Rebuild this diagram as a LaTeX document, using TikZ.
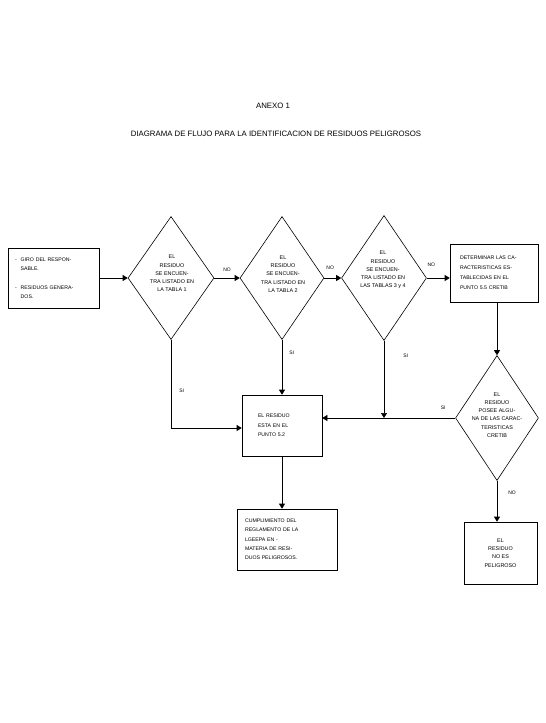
\documentclass[tikz,border=0pt]{standalone}
\usepackage{fontspec}
\setmainfont{Liberation Sans}
\usetikzlibrary{shapes.geometric,arrows.meta}
\begin{document}
\begin{tikzpicture}[x=1pt,y=-1pt,
  line width=0.6pt,
  box/.style={draw, rectangle, inner sep=0pt},
  dia/.style={draw, diamond, inner sep=0pt},
  txt/.style={font=\fontsize{5.4}{8.3}\selectfont, inner sep=0pt, align=center},
  boxtxt/.style={font=\fontsize{5.2}{9.3}\selectfont, align=left},
  lbl/.style={font=\fontsize{5}{6}\selectfont, inner sep=0pt},
  ttl/.style={font=\fontsize{7.8}{9}\selectfont, inner sep=0pt},
  arr/.style={-{Triangle[length=5pt,width=6pt]}}]
\useasboundingbox (0,0) rectangle (546,723);

\node[ttl] (anexo) at (273,106) {ANEXO 1};
\node[ttl] (titulo) at (276,134) {DIAGRAMA DE FLUJO PARA LA IDENTIFICACION DE RESIDUOS PELIGROSOS};

% box 1
\node[box, boxtxt, minimum width=91pt, minimum height=60pt, text width=77pt] (b1) at (53.5,278)
 {\begin{tabular}{@{}l@{\hspace{4pt}}l@{}}-&GIRO DEL RESPON-\\ &SABLE.\\[9pt] -&RESIDUOS GENERA-\\ &DOS.\end{tabular}};

% diamonds
\node[dia, minimum width=86pt, minimum height=123pt] (d1) at (171,278) {};
\node[txt] (t1) at (172,273.5) {EL\\RESIDUO\\SE ENCUEN-\\TRA LISTADO EN\\LA TABLA 1};
\node[dia, minimum width=84pt, minimum height=123pt] (d2) at (282,278) {};
\node[txt] (t2) at (283,274) {EL\\RESIDUO\\SE ENCUEN-\\TRA LISTADO EN\\LA TABLA 2};
\node[dia, minimum width=85pt, minimum height=125pt] (d3) at (384,278) {};
\node[txt] (t3) at (383,270) {EL\\RESIDUO\\SE ENCUEN-\\TRA LISTADO EN\\LAS TABLAS 3 y 4};
\node[dia, minimum width=83pt, minimum height=125pt] (d4) at (497,418) {};
\node[txt] (t4) at (497,415) {EL\\RESIDUO\\POSEE ALGU-\\NA DE LAS CARAC-\\TERISTICAS\\CRETIB};

% boxes
\node[box, boxtxt, font=\fontsize{5.2}{10}\selectfont, minimum width=88pt, minimum height=58pt, text width=68pt] (rb) at (494,273)
 {DETERMINAR LAS CA-\\RACTERISTICAS ES-\\TABLECIDAS EN EL\\PUNTO 5.5 CRETIB};
\node[box, boxtxt, minimum width=80pt, minimum height=61pt, text width=48pt] (b52) at (282,425.5)
 {EL RESIDUO\\ESTA EN EL\\PUNTO 5.2};
\node[box, boxtxt, minimum width=100pt, minimum height=61pt, text width=84pt] (bb) at (287,539.5)
 {CUMPLIMIENTO DEL\\REGLAMENTO DE LA\\LGEEPA EN -\\MATERIA DE RESI-\\DUOS PELIGROSOS.};
\node[box, txt, minimum width=73pt, minimum height=62pt] (np) at (500.5,553)
 {EL\\RESIDUO\\NO ES\\PELIGROSO};

\coordinate (j) at (d3.south |- d4.west);

% connectors
\draw[arr] (b1.east) -- (d1.west);
\draw[arr] (d1.east) -- node[lbl, above=6pt] (no1) {NO} (d2.west);
\draw[arr] (d2.east) -- node[lbl, pos=0.35, above=8pt] (no2) {NO} (d3.west);
\draw[arr] (d3.east) -- node[lbl, pos=0.2, above=11pt] (no3) {NO} (rb.west |- d3.east);
\draw[arr] (d1.south) |- node[lbl, pos=0.29, right=8pt] (si1) {SI} ([yshift=-2.5pt]b52.west);
\draw[arr] (d2.south) -- node[lbl, pos=0.24, right=7pt] (si2) {SI} (b52.north -| d2.south);
\draw[arr] (d3.south) -- node[lbl, pos=0.2, right=19pt] (si3) {SI} (j);
\draw[arr] (d4.west) -- node[lbl, pos=0.09, above=8pt] (si4) {SI} (b52.east |- d4.west);
\draw[arr] (d4.north |- rb.south) -- (d4.north);
\draw[arr] (d4.south) -- node[lbl, pos=0.29, right=11pt] (no4) {NO} (np.north -| d4.south);
\draw[arr] (b52.south) -- (bb.north -| b52.south);
\end{tikzpicture}
\end{document}
